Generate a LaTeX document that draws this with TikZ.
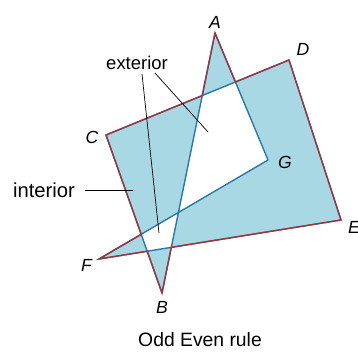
\documentclass[tikz,border=0pt]{standalone}
\usepackage{fontspec}
\setmainfont{Liberation Sans}
\usepackage{tikz}
\usetikzlibrary{calc}
\definecolor{edgered}{RGB}{160,52,58}
\definecolor{edgeblue}{RGB}{43,122,165}
\definecolor{fillblue}{RGB}{168,216,228}

\begin{document}
\begin{tikzpicture}[x=0.02cm,y=-0.02cm]
        \useasboundingbox (0,0) rectangle (358,352);
        \coordinate (A) at (215,33);
        \coordinate (B) at (162,293);
        \coordinate (C) at (106,135);
        \coordinate (D) at (289,60);
        \coordinate (E) at (341,220);
        \coordinate (F) at (99,259);
        \coordinate (G) at (268,160);
        \coordinate (p1) at (intersection of A--B and C--D);
        \coordinate (p3) at (intersection of A--B and E--F);
        \coordinate (p4) at (intersection of B--C and E--F);
        \coordinate (p5) at (intersection of B--C and F--G);
        \coordinate (p6) at (intersection of G--A and C--D);
        %Shade
        \fill[fillblue,even odd rule] (A) -- (B) -- (C) -- (D) -- (E) -- (F) -- (G) -- cycle;
        %Draw edges
        \draw[edgeblue,thick,line join=round] (A) -- (B) -- (C) -- (D) -- (E) -- (F) -- (G) -- cycle;
        \draw[edgered,thick,line join=miter] (C) -- (p1) -- (A) -- (p6) -- (D) -- (E) -- (p3) -- (B) -- (p4) -- (F) -- (p5) -- cycle;
        %Labels
        \node (a) at (215,22) {\textit{A}};
        \node (b) at (162,307) {\textit{B}};
        \node (c) at (92,137) {\textit{C}};
        \node (d) at (303,49) {\textit{D}};
        \node (e) at (354,227) {\textit{E}};
        \node (f) at (87,265) {\textit{F}};
        \node (g) at (285,162) {\textit{G}};
        \node[font=\fontsize{10.5}{12}\selectfont] (ext) at (137,63) {exterior};
        \node[font=\fontsize{11.5}{13}\selectfont] (int) at (44,190) {interior};
        \node[font=\fontsize{11}{13}\selectfont] (rule) at (200,340) {Odd Even rule};
        %Pointers
        \coordinate (q1) at (159,233);
        \coordinate (q2) at (208,132);
        \coordinate (q3) at (133,190);
        \draw[thin] (142,74) -- (q1);
        \draw[thin] (155,73) -- (q2);
        \draw[thin] (85,190) -- (q3);
      \end{tikzpicture}
\end{document}
